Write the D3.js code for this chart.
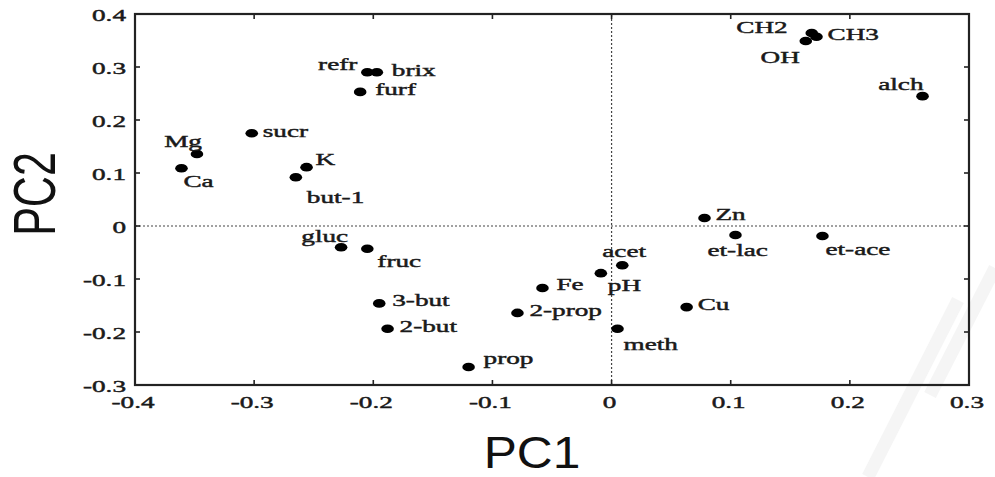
<!DOCTYPE html>
<html>
<head>
<meta charset="utf-8">
<script src="https://cdn.jsdelivr.net/npm/d3@7"></script>
<style>
  html, body { margin: 0; padding: 0; background: #fff; }
  svg { display: block; }
</style>
</head>
<body>
<svg id="chart" width="995" height="477"></svg>
<script>
// Variable names and their loadings on the first two principal components
const names = ["refr", "brix", "furf", "sucr", "Mg", "Ca", "K", "but-1",
  "gluc", "fruc", "3-but", "2-but", "prop", "2-prop", "Fe", "pH", "acet",
  "meth", "Cu", "et-lac", "Zn", "et-ace", "OH", "CH2", "CH3", "alch"];
const pc1 = [-0.205, -0.197, -0.211, -0.302, -0.348, -0.361, -0.256, -0.265,
  -0.227, -0.205, -0.195, -0.188, -0.120, -0.079, -0.058, -0.009, 0.009,
  0.005, 0.063, 0.104, 0.078, 0.177, 0.163, 0.168, 0.172, 0.261];
const pc2 = [0.290, 0.290, 0.253, 0.175, 0.136, 0.109, 0.111, 0.092,
  -0.040, -0.043, -0.146, -0.194, -0.266, -0.164, -0.117, -0.089, -0.074,
  -0.194, -0.153, -0.017, 0.015, -0.019, 0.349, 0.364, 0.357, 0.245];

// Axis ticks
const xTicks = [-0.4, -0.3, -0.2, -0.1, 0, 0.1, 0.2, 0.3];
const xTickLabels = ["-0.4", "-0.3", "-0.2", "-0.1", "0", "0.1", "0.2", "0.3"];
const yTicks = [-0.3, -0.2, -0.1, 0, 0.1, 0.2, 0.3, 0.4];
const yTickLabels = ["-0.3", "-0.2", "-0.1", "0", "0.1", "0.2", "0.3", "0.4"];

// Label placement relative to each point: [dx, dy, anchor]
const labelPlace = {
  "refr": [-10, -2, "end"], "brix": [15, 4, "start"], "furf": [15, 3, "start"],
  "sucr": [11, 4, "start"], "Mg": [5, -7, "end"], "Ca": [2, 19, "start"],
  "K": [9, -2, "start"], "but-1": [11, 26, "start"], "gluc": [7, -5, "end"],
  "fruc": [10, 18, "start"], "3-but": [13, 3, "start"], "2-but": [12, 3, "start"],
  "prop": [15, -3, "start"], "2-prop": [12, 3, "start"], "Fe": [14, 2, "start"],
  "pH": [7, 18, "start"], "acet": [-20, -8, "start"], "meth": [6, 21, "start"],
  "Cu": [11, 3, "start"], "et-lac": [-28, 21, "start"], "Zn": [11, 2, "start"],
  "et-ace": [3, 19, "start"], "OH": [-6, 22, "end"], "CH2": [-24, 0, "end"],
  "CH3": [11, 3, "start"], "alch": [1, -6, "end"]
};

const W = 995, H = 477;
const margin = { top: 14, right: 26, bottom: 92, left: 135 };
const svg = d3.select("#chart");

const x = d3.scaleLinear().domain([-0.4, 0.3]).range([margin.left, W - margin.right]);
const y = d3.scaleLinear().domain([-0.3, 0.4]).range([H - margin.bottom, margin.top]);

const serif = "'Liberation Serif', 'Times New Roman', serif";
const sans = "'Liberation Sans', Arial, Helvetica, sans-serif";
const SX = 1.6;   // horizontal stretch of the serif lettering

// faint background watermark strokes
const wm = svg.append("g").attr("fill", "none").attr("stroke", "#f5f5f5")
  .attr("stroke-width", 13).attr("stroke-linecap", "butt");
wm.append("path").attr("d", "M868,477 L958,300");
wm.append("path").attr("d", "M930,395 L995,268");

// zero reference lines
svg.append("line")
  .attr("x1", x(-0.4)).attr("x2", x(0.3)).attr("y1", y(0)).attr("y2", y(0))
  .attr("stroke", "#444").attr("stroke-width", 1.2).attr("stroke-dasharray", "2,2");
svg.append("line")
  .attr("x1", x(0)).attr("x2", x(0)).attr("y1", y(-0.3)).attr("y2", y(0.4))
  .attr("stroke", "#444").attr("stroke-width", 1.2).attr("stroke-dasharray", "2,2");

// inward ticks on all four sides
const tickLen = 5;
const tickG = svg.append("g").attr("stroke", "#222").attr("stroke-width", 1.6);
xTicks.forEach(v => {
  tickG.append("line").attr("x1", x(v)).attr("x2", x(v))
    .attr("y1", y(-0.3)).attr("y2", y(-0.3) - tickLen);
  tickG.append("line").attr("x1", x(v)).attr("x2", x(v))
    .attr("y1", y(0.4)).attr("y2", y(0.4) + tickLen);
});
yTicks.forEach(v => {
  tickG.append("line").attr("x1", x(-0.4)).attr("x2", x(-0.4) + tickLen)
    .attr("y1", y(v)).attr("y2", y(v));
  tickG.append("line").attr("x1", x(0.3)).attr("x2", x(0.3) - tickLen)
    .attr("y1", y(v)).attr("y2", y(v));
});

// frame
svg.append("rect")
  .attr("x", x(-0.4)).attr("y", y(0.4))
  .attr("width", x(0.3) - x(-0.4)).attr("height", y(-0.3) - y(0.4))
  .attr("fill", "none").attr("stroke", "#222").attr("stroke-width", 2.2);

function stretchedText(g, tx, ty, str, anchor, size) {
  return g.append("text")
    .attr("transform", `translate(${tx},${ty}) scale(${SX},1)`)
    .attr("text-anchor", anchor)
    .attr("font-family", serif)
    .attr("font-size", size)
    .attr("fill", "#1a1a1a")
    .attr("stroke", "#1a1a1a").attr("stroke-width", 0.45)
    .text(str);
}

// tick labels
const tl = svg.append("g");
xTicks.forEach((v, i) => stretchedText(tl, x(v) - 2, y(-0.3) + 23, xTickLabels[i], "middle", 17));
yTicks.forEach((v, i) => stretchedText(tl, x(-0.4) - 9, y(v) + 7, yTickLabels[i], "end", 17));

// points
const pts = names.map((n, i) => ({ name: n, px: pc1[i], py: pc2[i] }));
svg.append("g").selectAll("ellipse").data(pts).join("ellipse")
  .attr("cx", d => x(d.px)).attr("cy", d => y(d.py))
  .attr("rx", 6.3).attr("ry", 4.3).attr("fill", "#000");

// point labels
const lg = svg.append("g");
pts.forEach(d => {
  const p = labelPlace[d.name];
  stretchedText(lg, x(d.px) + p[0], y(d.py) + p[1], d.name, p[2], 17);
});

// axis titles
svg.append("text")
  .attr("transform", "translate(532,468) scale(1.13,1)")
  .attr("text-anchor", "middle")
  .attr("font-family", sans).attr("font-size", 44).attr("fill", "#111")
  .text("PC1");
svg.append("text")
  .attr("transform", "translate(55,194) scale(1.37,1) rotate(-90)")
  .attr("text-anchor", "middle")
  .attr("font-family", sans).attr("font-size", 43).attr("fill", "#111")
  .text("PC2");
</script>
</body>
</html>
